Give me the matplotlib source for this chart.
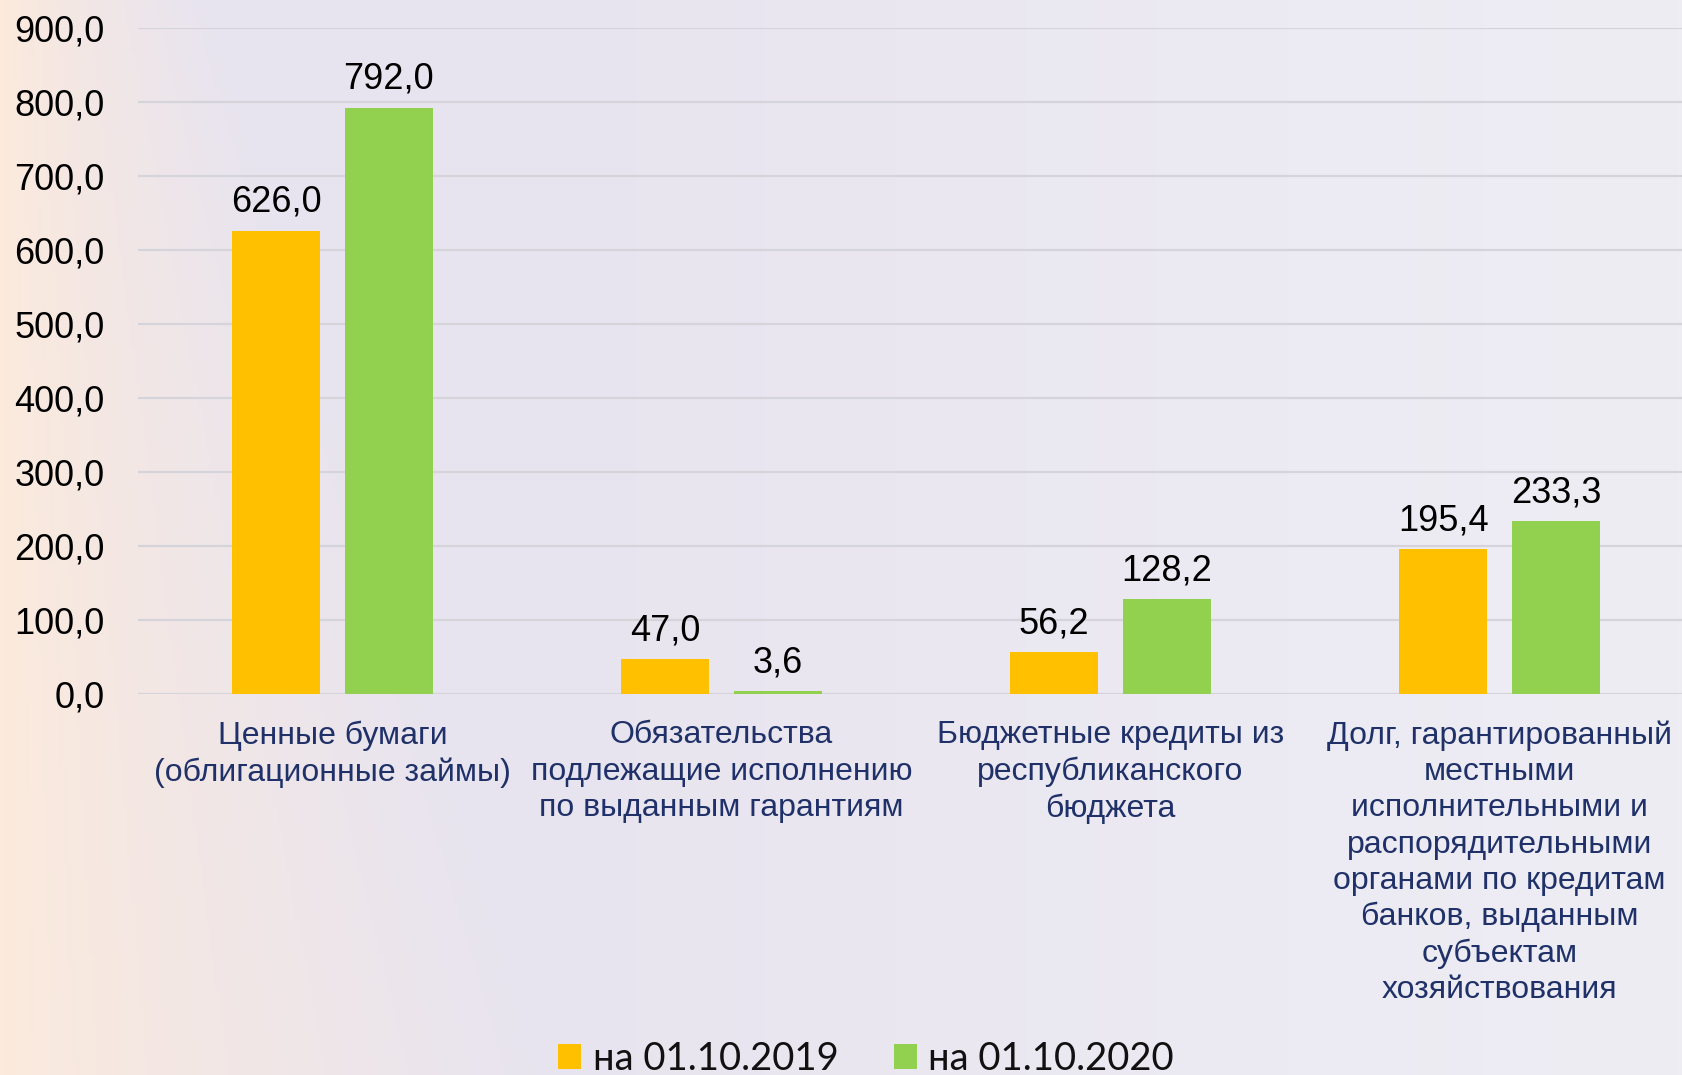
import numpy as np
import matplotlib.pyplot as plt

categories = [
    "Ценные бумаги\n(облигационные займы)",
    "Обязательства\nподлежащие исполнению\nпо выданным гарантиям",
    "Бюджетные кредиты из\nреспубликанского\nбюджета",
    "Долг, гарантированный\nместными\nисполнительными и\nраспорядительными\nорганами по кредитам\nбанков, выданным\nсубъектам\nхозяйствования",
]
series_names = ["на 01.10.2019", "на 01.10.2020"]
values_2019 = [626.0, 47.0, 56.2, 195.4]
values_2020 = [792.0, 3.6, 128.2, 233.3]
yticks = [0, 100, 200, 300, 400, 500, 600, 700, 800, 900]

col_2019 = "#FFC000"
col_2020 = "#92D050"

W, H = 1682, 1075
fig = plt.figure(figsize=(W / 100, H / 100), dpi=100)

# background: peach on the left fading into lavender
bg = fig.add_axes([0, 0, 1, 1], zorder=0)
gx = np.linspace(0, 1, 400)
gy = np.linspace(0, 1, 250)
X, Y = np.meshgrid(gx, gy)
t = np.clip(X / (0.12 + 0.2 * (1 - Y)), 0, 1) ** 0.8
peach = np.array([252, 234, 220]) / 255
lav = np.array([232, 228, 239]) / 255
right = np.array([238, 237, 244]) / 255
img = peach[None, None, :] * (1 - t[..., None]) + lav[None, None, :] * t[..., None]
s = np.clip((X - 0.3) / 0.7, 0, 1)[..., None]
img = img * (1 - s) + right[None, None, :] * s
bg.imshow(img, extent=[0, 1, 0, 1], origin="lower", aspect="auto")
bg.axis("off")

ax = fig.add_axes([138 / W, 1 - 694 / H, 1556 / W, (694 - 28) / H], zorder=1)
ax.patch.set_alpha(0)

x = np.arange(len(categories))
bw = 0.225
off = 0.145
b1 = ax.bar(x - off, values_2019, bw, color=col_2019, label=series_names[0], zorder=3)
b2 = ax.bar(x + off, values_2020, bw, color=col_2020, label=series_names[1], zorder=3)

def fmt(v):
    return f"{v:.1f}".replace(".", ",")

for bars, vals in ((b1, values_2019), (b2, values_2020)):
    for r, v in zip(bars, vals):
        ax.annotate(fmt(v), (r.get_x() + r.get_width() / 2, v), xytext=(0, 8),
                    textcoords="offset points", ha="center", va="bottom",
                    fontsize=26, family="Liberation Sans", color="black")

ax.set_xlim(-0.5, len(categories) - 0.5)
ax.set_ylim(0, 900)
ax.set_yticks(yticks)
ax.set_yticklabels([fmt(v) for v in yticks], fontsize=26, family="Liberation Sans")
ax.set_xticks(x)
ax.set_xticklabels(categories, fontsize=23, family="Liberation Sans",
                   color="#1F3168", linespacing=1.27, va="top", ha="center")
ax.tick_params(axis="y", length=0, pad=24)
ax.tick_params(axis="x", length=0, pad=19)
ax.grid(axis="y", color="#D6D4DB", linewidth=1.6, zorder=0)
for sp in ax.spines.values():
    sp.set_visible(False)

fig.legend(handles=[b1, b2], labels=series_names, loc="center",
           bbox_to_anchor=(866 / W, 1 - 1059 / H), ncol=2, frameon=False,
           prop={"family": "Lato", "size": 27.5}, handlelength=0.6,
           handleheight=0.6, handletextpad=0.3, columnspacing=1.45,
           labelcolor="#111111")

fig.savefig("out.png", dpi=100)
